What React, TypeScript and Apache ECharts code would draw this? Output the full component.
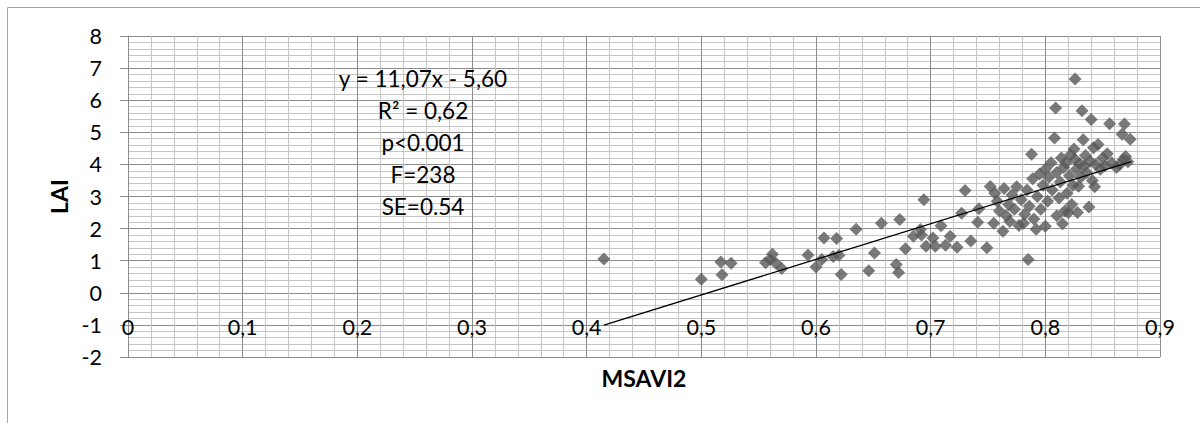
import React, { useEffect, useRef } from "react";
import * as echarts from "echarts";

const msavi2 = [
  0.415, 0.5, 0.517, 0.518, 0.526, 0.556, 0.56, 0.562, 0.565, 0.57,
  0.593, 0.6, 0.605, 0.607, 0.615, 0.618, 0.62, 0.622, 0.635, 0.646,
  0.651, 0.657, 0.67, 0.672, 0.673, 0.678, 0.685, 0.691, 0.692, 0.694,
  0.696, 0.702, 0.704, 0.709, 0.713, 0.717, 0.723, 0.727, 0.73, 0.735,
  0.741, 0.742, 0.749, 0.752, 0.755, 0.756, 0.758, 0.76, 0.763, 0.764,
  0.766, 0.768, 0.769, 0.771, 0.773, 0.775, 0.777, 0.779, 0.781, 0.782,
  0.784, 0.785, 0.786, 0.788, 0.789, 0.79, 0.792, 0.793, 0.795, 0.796,
  0.798, 0.8, 0.8, 0.802, 0.803, 0.805, 0.806, 0.808, 0.809, 0.81,
  0.81, 0.812, 0.813, 0.814, 0.815, 0.816, 0.817, 0.818, 0.819, 0.82,
  0.821, 0.822, 0.823, 0.824, 0.825, 0.826, 0.826, 0.827, 0.828, 0.829,
  0.83, 0.831, 0.832, 0.833, 0.834, 0.835, 0.836, 0.838, 0.839, 0.84,
  0.841, 0.842, 0.843, 0.844, 0.846, 0.848, 0.85, 0.852, 0.854, 0.856,
  0.858, 0.862, 0.865, 0.867, 0.868, 0.869, 0.87, 0.872, 0.874,
];

const lai = [
  1.05, 0.42, 0.96, 0.56, 0.92, 0.94, 1.04, 1.2, 0.92, 0.76,
  1.18, 0.8, 1.04, 1.71, 1.13, 1.69, 1.17, 0.57, 1.98, 0.69,
  1.24, 2.17, 0.88, 0.63, 2.28, 1.37, 1.76, 1.97, 1.8, 2.9,
  1.45, 1.71, 1.45, 2.09, 1.48, 1.76, 1.42, 2.48, 3.19, 1.61,
  2.2, 2.62, 1.4, 3.31, 2.17, 3.1, 2.85, 2.55, 1.92, 3.25,
  2.4, 2.75, 2.22, 3.05, 2.6, 3.3, 2.1, 2.9, 2.17, 2.45,
  3.2, 1.04, 2.7, 4.32, 3.55, 2.3, 1.98, 3.0, 3.7, 2.6,
  3.35, 2.07, 3.85, 2.85, 3.6, 4.05, 3.2, 4.82, 5.76, 2.4,
  3.75, 2.95, 3.45, 4.2, 2.15, 3.9, 2.55, 4.05, 3.1, 2.49,
  3.65, 4.3, 2.75, 3.35, 4.48, 6.66, 4.15, 3.85, 2.5, 3.32,
  4.02, 3.6, 5.67, 4.77, 3.95, 4.28, 3.75, 2.67, 4.1, 5.4,
  3.5, 4.52, 3.3, 4.0, 4.62, 3.85, 4.2, 3.95, 4.33, 5.27,
  4.05, 3.9, 4.0, 4.94, 4.15, 5.26, 4.25, 4.08, 4.78,
];

const trendX = [0.415, 0.875];
const trendY = [-1.01, 4.09];

const xTicks = ["0", "0,1", "0,2", "0,3", "0,4", "0,5", "0,6", "0,7", "0,8", "0,9"];
const statsLines = ["y = 11,07x - 5,60", "R² = 0,62", "p<0.001", "F=238", "SE=0.54"];

const FONT = "Lato, 'Open Sans', sans-serif";

export default function App() {
  const ref = useRef<HTMLDivElement>(null);

  useEffect(() => {
    if (!ref.current) return;
    const chart = echarts.init(ref.current, undefined, { renderer: "svg" });
    const points = msavi2.map((x, i) => [x, lai[i]]);
    const trend = trendX.map((x, i) => [x, trendY[i]]);

    chart.setOption({
      animation: false,
      backgroundColor: "#ffffff",
      grid: { left: 128, right: 40, top: 36, bottom: 66, containLabel: false },
      graphic: [
        {
          type: "rect",
          shape: { x: 7.5, y: 7.5, width: 1400, height: 600 },
          style: { fill: "none", stroke: "#a6a6a6", lineWidth: 1 },
          silent: true,
          z: -10,
        },
        {
          type: "text",
          x: 423,
          y: 142,
          style: {
            text: statsLines.join("\n"),
            font: `22.5px ${FONT}`,
            fill: "#000",
            align: "center",
            verticalAlign: "middle",
            lineHeight: 32,
          },
          z: 100,
        },
      ],
      xAxis: {
        type: "value",
        min: 0,
        max: 0.9,
        interval: 0.1,
        name: "MSAVI2",
        nameLocation: "middle",
        nameGap: 9,
        nameTextStyle: {
          fontFamily: FONT,
          fontWeight: "bold",
          fontSize: 23,
          color: "#000",
          verticalAlign: "top",
        },
        axisLine: { show: false },
        axisTick: { show: false },
        axisLabel: {
          margin: -41,
          fontFamily: FONT,
          fontSize: 21.5,
          color: "#000",
          formatter: (v: number) => xTicks[Math.round(v * 10)] ?? "",
        },
        splitLine: { show: true, lineStyle: { color: "#8c8c8c", width: 1 } },
        minorTick: { show: false, splitNumber: 5 },
        minorSplitLine: { show: true, lineStyle: { color: "#c6c6c6", width: 1 } },
      },
      yAxis: {
        type: "value",
        min: -2,
        max: 8,
        interval: 1,
        name: "LAI",
        nameLocation: "middle",
        nameRotate: 90,
        nameGap: 58,
        nameTextStyle: {
          fontFamily: FONT,
          fontWeight: "bold",
          fontSize: 23,
          color: "#000",
        },
        axisLine: { show: true, lineStyle: { color: "#8c8c8c" } },
        axisTick: { show: true, length: 8, lineStyle: { color: "#8c8c8c" } },
        axisLabel: {
          margin: 26,
          fontFamily: FONT,
          fontSize: 21.5,
          color: "#000",
        },
        splitLine: { show: true, lineStyle: { color: "#8c8c8c", width: 1 } },
        minorTick: { show: false, splitNumber: 5 },
        minorSplitLine: { show: true, lineStyle: { color: "#c6c6c6", width: 1 } },
      },
      series: [
        {
          type: "scatter",
          data: points,
          symbol: "diamond",
          symbolSize: 13,
          itemStyle: { color: "#595959" },
          z: 3,
        },
        {
          type: "line",
          data: trend,
          symbol: "none",
          lineStyle: { color: "#000", width: 1.3 },
          z: 4,
        },
      ],
    });
    return () => chart.dispose();
  }, []);

  return (
    <div
      ref={ref}
      style={{ position: "absolute", left: 0, top: 0, width: 1200, height: 423 }}
    />
  );
}
